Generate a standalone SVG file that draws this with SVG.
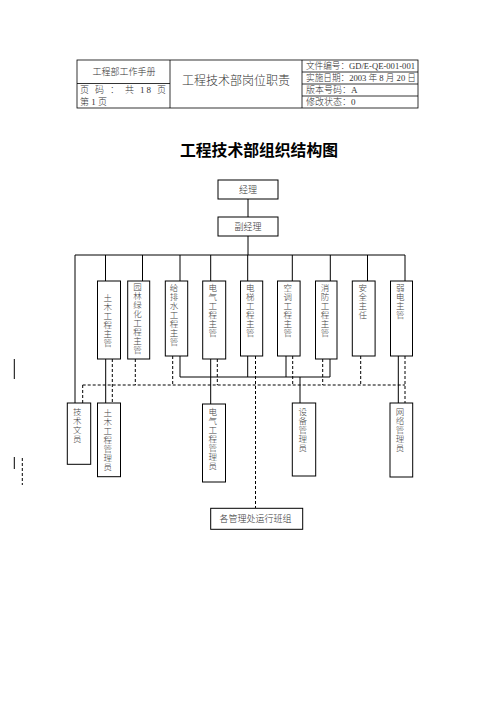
<svg xmlns="http://www.w3.org/2000/svg" width="496" height="702" viewBox="0 0 496 702">
<style>
text{font-family:"Liberation Serif","Noto Sans CJK SC",serif;fill:#333;font-weight:300}
.h{font-size:9px}
.c{text-anchor:middle;dominant-baseline:central}
.v{font-size:8.5px;text-anchor:middle;dominant-baseline:central;fill:#444}
.box{fill:#fff;stroke:#000;stroke-width:1}
.ln{stroke:#000;stroke-width:1;fill:none}
.ds{stroke:#000;stroke-width:1;fill:none;stroke-dasharray:3,2}
.tb{stroke:#000;stroke-width:0.8;fill:none}
</style>
<rect width="496" height="702" fill="#fff"/>
<g id="header">
<rect class="tb" x="77" y="60" width="341" height="48"/>
<line class="tb" x1="170" y1="60" x2="170" y2="108"/>
<line class="tb" x1="302" y1="60" x2="302" y2="108"/>
<line class="tb" x1="77" y1="83.5" x2="170" y2="83.5"/>
<line class="tb" x1="302" y1="72" x2="418" y2="72"/>
<line class="tb" x1="302" y1="84" x2="418" y2="84"/>
<line class="tb" x1="302" y1="96" x2="418" y2="96"/>
<text class="h c" x="124" y="72">工程部工作手册</text>
<text class="h" x="80" y="93" textLength="86" lengthAdjust="spacing">页 码 ： 共 18 页</text>
<text class="h" x="80" y="105">第 1 页</text>
<text class="c" x="236" y="81" font-size="12">工程技术部岗位职责</text>
<text class="h" x="306" y="69" textLength="109" lengthAdjust="spacingAndGlyphs">文件编号：GD/E-QE-001-001</text>
<text class="h" x="306" y="81" textLength="110" lengthAdjust="spacingAndGlyphs">实施日期：2003 年 8 月 20 日</text>
<text class="h" x="306" y="93">版本号码：A</text>
<text class="h" x="306" y="105">修改状态：0</text>
</g>
<text x="259" y="150" class="c" font-size="15.8" font-weight="bold" font-family="Noto Sans CJK SC, sans-serif" style="font-weight:bold;fill:#000">工程技术部组织结构图</text>
<g id="connectors">
<line class="ln" x1="248" y1="199" x2="248" y2="217"/>
<line class="ln" x1="248" y1="236" x2="248" y2="255"/>
<line class="ln" x1="75" y1="255" x2="405" y2="255"/>
<line class="ln" x1="75" y1="255" x2="75" y2="403"/>
<line class="ln" x1="105.5" y1="255" x2="105.5" y2="281"/>
<line class="ln" x1="142.5" y1="255" x2="142.5" y2="281"/>
<line class="ln" x1="180" y1="255" x2="180" y2="281"/>
<line class="ln" x1="210.7" y1="255" x2="210.7" y2="281"/>
<line class="ln" x1="247.7" y1="255" x2="247.7" y2="281"/>
<line class="ln" x1="292.3" y1="255" x2="292.3" y2="281"/>
<line class="ln" x1="330.3" y1="255" x2="330.3" y2="281"/>
<line class="ln" x1="367.5" y1="255" x2="367.5" y2="281"/>
<line class="ln" x1="405" y1="255" x2="405" y2="281"/>
<line class="ln" x1="105.7" y1="359" x2="105.7" y2="403"/>
<line class="ln" x1="180" y1="356" x2="180" y2="377"/>
<line class="ln" x1="210.7" y1="359" x2="210.7" y2="404"/>
<line class="ln" x1="247.7" y1="356" x2="247.7" y2="377"/>
<line class="ln" x1="286" y1="356" x2="286" y2="377"/>
<line class="ln" x1="330" y1="359" x2="330" y2="377"/>
<line class="ln" x1="180" y1="377" x2="330" y2="377"/>
<line class="ln" x1="300" y1="377" x2="300" y2="403"/>
<line class="ln" x1="398.3" y1="356" x2="398.3" y2="403"/>
<line class="ds" x1="82.7" y1="385" x2="405" y2="385"/>
<line class="ds" x1="82.7" y1="385" x2="82.7" y2="403"/>
<line class="ds" x1="112.3" y1="359" x2="112.3" y2="403"/>
<line class="ds" x1="135.3" y1="359" x2="135.3" y2="385"/>
<line class="ds" x1="172.7" y1="356" x2="172.7" y2="385"/>
<line class="ds" x1="217.3" y1="359" x2="217.3" y2="385"/>
<line class="ds" x1="255.5" y1="356" x2="255.5" y2="508"/>
<line class="ds" x1="292.7" y1="356" x2="292.7" y2="385"/>
<line class="ds" x1="322.7" y1="359" x2="322.7" y2="385"/>
<line class="ds" x1="360.7" y1="356" x2="360.7" y2="385"/>
<line class="ds" x1="405" y1="356" x2="405" y2="403"/>
<line class="ln" x1="14.3" y1="359" x2="14.3" y2="379"/>
<line class="ln" x1="14.3" y1="457" x2="14.3" y2="469"/>
<line class="ds" x1="22.3" y1="458" x2="22.3" y2="485"/>
</g>
<g id="n-jingli"><rect class="box" x="218" y="180" width="60" height="19"/><text class="h c" x="248" y="189.5">经理</text></g>
<g id="n-fujingli"><rect class="box" x="218" y="217" width="60" height="19"/><text class="h c" x="248" y="226.5">副经理</text></g>
<g id="n-tumu"><rect class="box" x="97.5" y="281" width="23" height="78"/><text class="v"><tspan x="107.7" y="298">土</tspan><tspan x="107.7" y="307">木</tspan><tspan x="107.7" y="316">工</tspan><tspan x="107.7" y="325">程</tspan><tspan x="107.7" y="334">主</tspan><tspan x="107.7" y="343">管</tspan></text></g>
<g id="n-yuanlin"><rect class="box" x="127.7" y="281" width="22" height="78"/><text class="v"><tspan x="137.5" y="287">园</tspan><tspan x="137.5" y="296">林</tspan><tspan x="137.5" y="305">绿</tspan><tspan x="137.5" y="314">化</tspan><tspan x="137.5" y="323">工</tspan><tspan x="137.5" y="332">程</tspan><tspan x="137.5" y="341">主</tspan><tspan x="137.5" y="350">管</tspan></text></g>
<g id="n-geipaishui"><rect class="box" x="165.3" y="281" width="22.4" height="75"/><text class="v"><tspan x="174" y="288">给</tspan><tspan x="174" y="297">排</tspan><tspan x="174" y="306">水</tspan><tspan x="174" y="315">工</tspan><tspan x="174" y="324">程</tspan><tspan x="174" y="333">主</tspan><tspan x="174" y="342">管</tspan></text></g>
<g id="n-dianqi"><rect class="box" x="202.7" y="281" width="23" height="78"/><text class="v"><tspan x="212.7" y="288">电</tspan><tspan x="212.7" y="297">气</tspan><tspan x="212.7" y="306">工</tspan><tspan x="212.7" y="315">程</tspan><tspan x="212.7" y="324">主</tspan><tspan x="212.7" y="333">管</tspan></text></g>
<g id="n-dianti"><rect class="box" x="240.5" y="281" width="22.2" height="75"/><text class="v"><tspan x="250.3" y="288">电</tspan><tspan x="250.3" y="297">梯</tspan><tspan x="250.3" y="306">工</tspan><tspan x="250.3" y="315">程</tspan><tspan x="250.3" y="324">主</tspan><tspan x="250.3" y="333">管</tspan></text></g>
<g id="n-kongtiao"><rect class="box" x="277.5" y="281" width="22.6" height="75"/><text class="v"><tspan x="287.7" y="288">空</tspan><tspan x="287.7" y="297">调</tspan><tspan x="287.7" y="306">工</tspan><tspan x="287.7" y="315">程</tspan><tspan x="287.7" y="324">主</tspan><tspan x="287.7" y="333">管</tspan></text></g>
<g id="n-xiaofang"><rect class="box" x="315.5" y="281" width="21.5" height="78"/><text class="v"><tspan x="325" y="288">消</tspan><tspan x="325" y="297">防</tspan><tspan x="325" y="306">工</tspan><tspan x="325" y="315">程</tspan><tspan x="325" y="324">主</tspan><tspan x="325" y="333">管</tspan></text></g>
<g id="n-anquan"><rect class="box" x="352.3" y="281" width="22.8" height="75"/><text class="v"><tspan x="362.7" y="288">安</tspan><tspan x="362.7" y="297">全</tspan><tspan x="362.7" y="306">主</tspan><tspan x="362.7" y="315">任</tspan></text></g>
<g id="n-ruodian"><rect class="box" x="390.5" y="281" width="22" height="75"/><text class="v"><tspan x="400.3" y="288">弱</tspan><tspan x="400.3" y="297">电</tspan><tspan x="400.3" y="306">主</tspan><tspan x="400.3" y="315">管</tspan></text></g>
<g id="n-jishuwenyuan"><rect class="box" x="67.3" y="403" width="23.4" height="61.3"/><text class="v"><tspan x="77.3" y="412">技</tspan><tspan x="77.3" y="421">术</tspan><tspan x="77.3" y="430">文</tspan><tspan x="77.3" y="439">员</tspan></text></g>
<g id="n-tumuguanli"><rect class="box" x="97.5" y="403" width="23" height="73.7"/><text class="v"><tspan x="107.7" y="413">土</tspan><tspan x="107.7" y="422">木</tspan><tspan x="107.7" y="431">工</tspan><tspan x="107.7" y="440">程</tspan><tspan x="107.7" y="449">管</tspan><tspan x="107.7" y="458">理</tspan><tspan x="107.7" y="467">员</tspan></text></g>
<g id="n-dianqiguanli"><rect class="box" x="202.5" y="404" width="23" height="78"/><text class="v"><tspan x="212.7" y="412">电</tspan><tspan x="212.7" y="421">气</tspan><tspan x="212.7" y="430">工</tspan><tspan x="212.7" y="439">程</tspan><tspan x="212.7" y="448">管</tspan><tspan x="212.7" y="457">理</tspan><tspan x="212.7" y="466">员</tspan></text></g>
<g id="n-shebei"><rect class="box" x="292.3" y="403" width="23.4" height="73"/><text class="v"><tspan x="302.7" y="412">设</tspan><tspan x="302.7" y="421">备</tspan><tspan x="302.7" y="430">管</tspan><tspan x="302.7" y="439">理</tspan><tspan x="302.7" y="448">员</tspan></text></g>
<g id="n-wangluo"><rect class="box" x="390" y="403" width="22.7" height="74"/><text class="v"><tspan x="400" y="412">网</tspan><tspan x="400" y="421">络</tspan><tspan x="400" y="430">管</tspan><tspan x="400" y="439">理</tspan><tspan x="400" y="448">员</tspan></text></g>
<g id="n-banzu"><rect class="box" x="210.7" y="508.3" width="92" height="21"/><text class="h c" x="255.5" y="519">各管理处运行班组</text></g>
</svg>
